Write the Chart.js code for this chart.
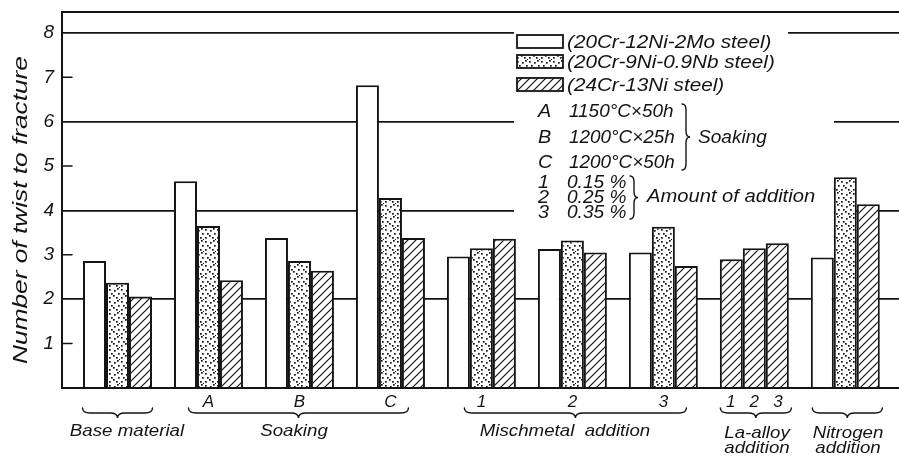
<!DOCTYPE html>
<html><head><meta charset="utf-8">
<script src="https://cdn.jsdelivr.net/npm/chart.js@4.4.1/dist/chart.umd.min.js"></script>
<style>html,body{margin:0;padding:0;background:#fff}#wrap{width:899px;height:460px;position:relative}</style>
</head><body><div id="wrap"><canvas id="c" width="899" height="460"></canvas></div>
<script>
// ===== DATA =====
const GROUPS=['Base material','Soaking A','Soaking B','Soaking C','Mischmetal 1','Mischmetal 2','Mischmetal 3','La-alloy','Nitrogen'];
const SUB_LABELS=['','A','B','C','1','2','3','1   2   3',''];
const MO_STEEL=[2.86,4.66,3.38,6.82,2.96,3.13,3.05,null,2.94];   // 20Cr-12Ni-2Mo
const NB_STEEL=[2.37,3.65,2.86,4.28,3.15,3.32,3.63,null,4.75];   // 20Cr-9Ni-0.9Nb
const NI_STEEL=[2.06,2.43,2.64,3.38,3.36,3.05,2.75,2.90,4.14];   // 24Cr-13Ni (La column = La-alloy 1)
const LA_ALLOY_2=[null,null,null,null,null,null,null,3.15,null];
const LA_ALLOY_3=[null,null,null,null,null,null,null,3.26,null];
const Y_MAX=8.47;

const FONT='"Liberation Sans", "DejaVu Sans", sans-serif';
const INK='#141414';

// ===== PATTERNS =====
function stipple(){
  const c=document.createElement('canvas');c.width=12;c.height=12;
  const g=c.getContext('2d');g.fillStyle='#fff';g.fillRect(0,0,12,12);g.fillStyle=INK;
  [[1,1],[6,2],[10,5],[3,5],[8,9],[1,9],[5,7],[11,11],[9,0]].forEach(([x,y])=>g.fillRect(x,y,1.7,1.7));
  return g.createPattern(c,'repeat');
}
function hatch(){
  const s=8,c=document.createElement('canvas');c.width=s;c.height=s;
  const g=c.getContext('2d');g.fillStyle='#fff';g.fillRect(0,0,s,s);
  g.strokeStyle=INK;g.lineWidth=1.2;g.beginPath();
  g.moveTo(-1,s+1);g.lineTo(s+1,-1);g.moveTo(-1,1);g.lineTo(1,-1);g.moveTo(s-1,s+1);g.lineTo(s+1,s-1);g.stroke();
  return g.createPattern(c,'repeat');
}
const PAT_DOT=stipple(),PAT_HATCH=hatch();

// category spacing of the original (groups are ~91px apart, not evenly filling the axis)
const X_START=-0.61,X_RANGE=9.2;

function it(ctx,size){ctx.font=`italic ${size}px ${FONT}`}
// text a bit wider than the font, like the lettering of the original
function wide(ctx,t,x,y,sx,align){ctx.save();ctx.translate(x,y);ctx.scale(sx,1);ctx.textAlign=align||'left';ctx.fillText(t,0,0);ctx.restore();}
function hBrace(ctx,x1,x2,y){
  const cx=(x1+x2)/2,d=5;
  ctx.beginPath();ctx.moveTo(x1,y-d);ctx.quadraticCurveTo(x1,y,x1+d*1.5,y);ctx.lineTo(cx-d*1.5,y);
  ctx.quadraticCurveTo(cx,y,cx,y+d);ctx.quadraticCurveTo(cx,y,cx+d*1.5,y);ctx.lineTo(x2-d*1.5,y);
  ctx.quadraticCurveTo(x2,y,x2,y-d);ctx.stroke();
}
function vBrace(ctx,x,y1,y2){
  const cy=(y1+y2)/2,d=4;
  ctx.beginPath();ctx.moveTo(x-d,y1);ctx.quadraticCurveTo(x,y1,x,y1+d*1.5);ctx.lineTo(x,cy-d*1.5);
  ctx.quadraticCurveTo(x,cy,x+d,cy);ctx.quadraticCurveTo(x,cy,x,cy+d*1.5);ctx.lineTo(x,y2-d*1.5);
  ctx.quadraticCurveTo(x,y2,x-d,y2);ctx.stroke();
}

const decor={id:'decor',
  afterLayout(chart){const x=chart.scales.x;x._startValue=X_START;x._valueRange=X_RANGE;},
  afterDraw(chart){
    const ctx=chart.ctx,a=chart.chartArea,xs=chart.scales.x,ys=chart.scales.y;
    ctx.save();ctx.strokeStyle=INK;ctx.fillStyle=INK;ctx.lineCap='round';
    // frame top + short ticks on odd values
    ctx.lineWidth=2;ctx.beginPath();ctx.moveTo(a.left,a.top);ctx.lineTo(a.right,a.top);ctx.stroke();
    ctx.lineWidth=1.5;
    [1,3,5,7].forEach(v=>{const y=ys.getPixelForValue(v);ctx.beginPath();ctx.moveTo(a.left,y);ctx.lineTo(a.left+10,y);ctx.stroke();});
    // y title
    ctx.textBaseline='middle';
    ctx.save();ctx.translate(21,(a.top+a.bottom)/2+10);ctx.rotate(-Math.PI/2);it(ctx,21);wide(ctx,'Number of twist to fracture',0,0,1.25,'center');ctx.restore();
    // braces under x axis
    const px=i=>xs.getPixelForValue(i);
    ctx.lineWidth=1.4;
    const yb=413;
    const groups=[[px(0)-35,px(0)+35,['Base material'],127],[px(1)-20,px(3)+18,['Soaking'],294],[px(4)-17,px(6)+23,['Mischmetal  addition'],565],[px(7)-34,px(7)+37,['La-alloy','addition'],757],[px(8)-33,px(8)+37,['Nitrogen','addition'],848]];
    it(ctx,17);
    groups.forEach(([x1,x2,lines,cx])=>{
      hBrace(ctx,x1,x2,yb);
      lines.forEach((t,k)=>wide(ctx,t,cx,lines.length>1?433+k*15:431,1.1,'center'));
    });
    // legend block (white ground hides the grid lines)
    ctx.fillStyle='#fff';ctx.fillRect(514,27,274,66);ctx.fillRect(514,96,320,124);
    ctx.fillStyle=INK;ctx.lineWidth=1.8;
    const keys=[['#fff','(20Cr-12Ni-2Mo steel)',42],[PAT_DOT,'(20Cr-9Ni-0.9Nb steel)',62],[PAT_HATCH,'(24Cr-13Ni steel)',85]];
    it(ctx,18);
    keys.forEach(([f,t,y])=>{
      ctx.fillStyle=f;ctx.fillRect(517,y-7,46,13);ctx.strokeRect(517,y-7,46,13);
      ctx.fillStyle=INK;wide(ctx,t,567,y+1,1.15);
    });
    [['A','1150°C×50h',112],['B','1200°C×25h',138],['C','1200°C×50h',163]].forEach(([k,t,y])=>{wide(ctx,k,538,y,1.1);wide(ctx,t,569,y,1.05);});
    ctx.lineWidth=1.4;vBrace(ctx,686,104,170);
    wide(ctx,'Soaking',698,138,1.06);
    [['1','0.15 %',183],['2','0.25 %',198],['3','0.35 %',213]].forEach(([k,t,y])=>{wide(ctx,k,538,y,1.1);wide(ctx,t,567,y,1.06);});
    vBrace(ctx,634,176,219);
    wide(ctx,'Amount of addition',647,197,1.12);
    ctx.restore();
  }
};

const bar=(label,data,fill)=>({label,data,backgroundColor:fill,borderColor:INK,borderWidth:2,borderSkipped:'bottom',barPercentage:1,categoryPercentage:0.758});

new Chart(document.getElementById('c'),{
  type:'bar',
  data:{labels:GROUPS,datasets:[
    bar('20Cr-12Ni-2Mo steel',MO_STEEL,'#fff'),
    bar('20Cr-9Ni-0.9Nb steel',NB_STEEL,PAT_DOT),
    bar('24Cr-13Ni steel',NI_STEEL,PAT_HATCH),
    bar('24Cr-13Ni steel, La 2',LA_ALLOY_2,PAT_HATCH),
    bar('24Cr-13Ni steel, La 3',LA_ALLOY_3,PAT_HATCH)
  ]},
  options:{
    responsive:false,animation:false,skipNull:true,
    layout:{padding:{top:12,right:0,left:0,bottom:0}},
    plugins:{legend:{display:false},tooltip:{enabled:false}},
    scales:{
      x:{offset:true,grid:{display:false,drawTicks:false},border:{color:INK,width:2},
        ticks:{padding:4,color:INK,font:{family:FONT,size:17,style:'italic'},autoSkip:false,maxRotation:0,callback:(v,i)=>SUB_LABELS[i]},
        afterFit:s=>{s.height=72;s.paddingLeft=0;s.paddingRight=0}},
      y:{min:0,max:Y_MAX,border:{color:INK,width:2},
        grid:{drawTicks:false,lineWidth:1.8,color:c=>(c.tick&&c.tick.value>0&&c.tick.value%2===0)?INK:'rgba(0,0,0,0)'},
        ticks:{stepSize:1,includeBounds:false,padding:8,color:INK,font:{family:FONT,size:19,style:'italic'},callback:v=>v===0?'':v},
        afterFit:s=>{s.width=62;s.paddingTop=0;s.paddingBottom=0}}
    }
  },
  plugins:[decor]
});
</script></body></html>
